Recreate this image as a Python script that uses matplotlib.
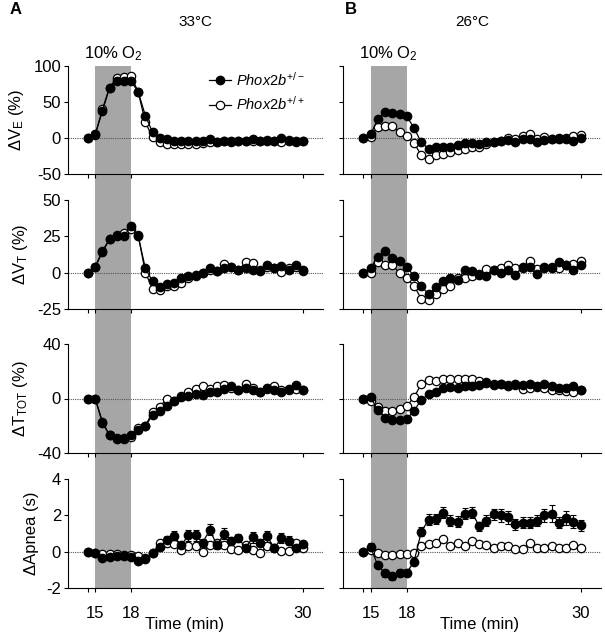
import matplotlib
matplotlib.use("Agg")
import matplotlib.pyplot as plt
import numpy as np

plt.rcParams["font.family"] = ["Liberation Sans", "DejaVu Sans"]
plt.rcParams["mathtext.fontset"] = "custom"
plt.rcParams["mathtext.rm"] = "Liberation Sans"
plt.rcParams["mathtext.it"] = "Liberation Sans:italic"
plt.rcParams["axes.unicode_minus"] = False

# ── data: 31 bins, 30 s each; filled = Phox2b+/-, open = Phox2b+/+ ─────────
bins = np.arange(31)
tick_pos = [1, 6, 30]
tick_labels = ["15", "18", "30"]
hypoxia = (1, 6)

ve33_het = [0, 5.5, 37, 70, 79, 79, 79, 64, 31, 8, 0, -1, -4, -4, -4, -4, -4, -1, -5, -4,
            -4, -4, -4, -1, -4, -4, -4, 0, -4, -4, -4]
ve33_wt = [0, 4, 40, 70, 83, 85, 86, 64, 22, 1, -6, -8, -8, -8, -8, -8, -7, -5, -5, -4,
           -5, -4, -4, -4, -4, -3, -4, -5, -3, -5, -4]
ve26_het = [0, 5, 26, 36, 35, 33, 30, 14, -6, -15, -12, -12, -12, -10, -7, -7, -8, -6, -5, -4,
            -3, -5, -1, -2, -5, -3, -1, -1, -2, -4, 0]
ve26_wt = [0, 2, 15, 17, 16, 8, 3, -7, -24, -29, -24, -22, -20, -17, -15, -12, -12, -8, -6, -4,
           0, -1, 3, 5, -1, 2, -1, 0, 0, 3, 4]

vt33_het = [0, 4, 14, 23, 25, 25, 32, 25, 3, -6, -10, -7.5, -7, -4, -2, -1.5, -0.5, 3, 1, 3,
            4, 2, 3, 2, 1, 5, 3, 4.5, 2, 5, 1.5]
vt33_wt = [0, 4, 15, 23, 26, 27, 30, 26, 0, -11, -12, -9, -9, -7, -4, -2, 0, 2, 1, 6,
           4, 2, 7, 6.5, 2, 4, 3, 0.5, 3, 4, 1]
vt26_het = [0, 3, 11, 15, 10, 8, 4, -2.5, -9, -15, -10, -5.5, -4, -5, 1.5, 1, -1.5, -2, 2, 0,
            1.5, -1.5, 4, 4, -1, 4, 3.5, 7, 5, 2, 5]
vt26_wt = [0, 0, 7, 5, 5, 0, -4, -9, -18, -19, -15, -11, -9, -4, -4, -2.5, -1, 2.5, 1.5, 3,
           5, 3.5, 3.5, 8, 2.5, 3.5, 4, 3, 5, 6, 8]

tt33_het = [0, 0, -18, -27, -29.5, -29.5, -26.5, -23, -20.5, -12, -9, -5.5, -2, 1, 1.5, 3.5,
            2.5, 4.5, 5, 7, 9, 6.5, 7.5, 6, 5, 7.5, 6, 5, 7, 10, 6]
tt33_wt = [0, 0, -17, -27, -29, -29, -28, -22, -20, -10, -6, 0, -2, 1.5, 5, 7,
           9, 7, 9, 10, 8, 6, 10.5, 7.5, 5, 7, 9, 6, 6, 7, 6]
tt26_het = [0, 1, -8.5, -14, -16, -15.5, -15, -9, -1, 3, 4.5, 7.5, 8.5, 7.5, 9.5, 9.5,
            10, 11.5, 10, 10.5, 9.5, 10.5, 10, 11, 9.5, 10.5, 9.5, 8, 7.5, 9.5, 6]
tt26_wt = [0, -2, -6, -9, -9, -8, -5.5, 1, 10.5, 13.5, 13, 14, 14, 14, 14, 14,
           13, 12, 11, 11, 10, 10, 7, 8, 8.5, 8, 6, 6, 5.5, 4.5, 6.5]

ap33_het = [0, -0.1, -0.35, -0.3, -0.25, -0.25, -0.3, -0.5, -0.4, -0.1, 0.25, 0.65, 0.85, 0.35,
            0.9, 0.9, 0.5, 1.2, 0.35, 1.0, 0.6, 0.75, 0.2, 0.8, 0.5, 0.85, 0.2, 0.75, 0.6, 0.2, 0.4]
ap33_het_sem = [0.05, 0.1, 0.1, 0.1, 0.1, 0.1, 0.1, 0.1, 0.1, 0.1, 0.15, 0.2, 0.3, 0.2,
                0.3, 0.3, 0.2, 0.3, 0.2, 0.3, 0.2, 0.2, 0.15, 0.3, 0.2, 0.3, 0.15, 0.3, 0.25, 0.15, 0.2]
ap33_wt = [0, -0.1, -0.15, -0.15, -0.15, -0.2, -0.2, -0.25, -0.35, -0.1, 0.45, 0.5, 0.4, 0.1,
           0.3, 0.3, 0.0, 0.35, 0.5, 0.35, 0.15, 0.1, 0.35, 0.1, -0.1, 0.3, 0.2, 0.05, 0.05, 0.5, 0.2]
ap26_het = [0, 0.25, -0.75, -1.2, -1.35, -1.15, -1.15, -0.55, 1.1, 1.75, 1.8, 2.15, 1.7, 1.65,
            2.1, 2.15, 1.4, 1.7, 2.05, 2.0, 1.9, 1.5, 1.6, 1.6, 1.7, 2.0, 2.1, 1.6, 1.85, 1.65, 1.45]
ap26_het_sem = [0.05, 0.2, 0.15, 0.2, 0.2, 0.2, 0.2, 0.2, 0.25, 0.3, 0.3, 0.3, 0.3, 0.3,
                0.3, 0.3, 0.25, 0.3, 0.3, 0.35, 0.35, 0.3, 0.3, 0.3, 0.3, 0.35, 0.45, 0.3, 0.4, 0.35, 0.3]
ap26_wt = [0, 0.1, -0.05, -0.2, -0.2, -0.15, -0.15, -0.1, 0.3, 0.4, 0.5, 0.7, 0.3, 0.5,
           0.3, 0.6, 0.4, 0.35, 0.2, 0.3, 0.3, 0.15, 0.15, 0.45, 0.2, 0.2, 0.3, 0.2, 0.2, 0.35, 0.2]

ylabels = [r"ΔV$_\mathrm{E}$ (%)", r"ΔV$_\mathrm{T}$ (%)", r"ΔT$_\mathrm{TOT}$ (%)", "ΔApnea (s)"]
ylims = [(-50, 100), (-25, 50), (-40, 40), (-2, 4)]
yticks = [[-50, 0, 50, 100], [-25, 0, 25, 50], [-40, 0, 40], [-2, 0, 2, 4]]

columns = [
    dict(temp="33°C", letter="A",
         het=[ve33_het, vt33_het, tt33_het, ap33_het], wt=[ve33_wt, vt33_wt, tt33_wt, ap33_wt],
         sem=ap33_het_sem),
    dict(temp="26°C", letter="B",
         het=[ve26_het, vt26_het, tt26_het, ap26_het], wt=[ve26_wt, vt26_wt, tt26_wt, ap26_wt],
         sem=ap26_het_sem),
]

# ── layout (pixels of a 605x640 canvas) ──────────────────────────────────────
W, H = 605, 640
col_x = [(68, 323), (343, 601)]
row_y = [(66, 174), (200, 309), (344, 453), (479, 588)]
xlim = (-2.8, 32.8)

fig = plt.figure(figsize=(W / 100, H / 100), dpi=100)


def rect(x0, x1, y0, y1):
    return [x0 / W, 1 - y1 / H, (x1 - x0) / W, (y1 - y0) / H]


for c, col in enumerate(columns):
    x0, x1 = col_x[c]
    # grey hypoxia band running through all four panels
    bg = fig.add_axes(rect(x0, x1, row_y[0][0], row_y[-1][1]))
    bg.set_xlim(xlim)
    bg.axvspan(*hypoxia, color="#a6a6a6", lw=0)
    bg.axis("off")

    for r in range(4):
        ax = fig.add_axes(rect(x0, x1, *row_y[r]))
        ax.set_facecolor("none")
        ax.axhline(0, color="#555555", lw=0.8, ls=(0, (1, 1)), zorder=1)
        if r == 3:
            ax.errorbar(bins, col["het"][r], yerr=col["sem"], fmt="none", ecolor="black",
                        elinewidth=0.8, capsize=2, capthick=0.8, zorder=2)
        ax.plot(bins, col["wt"][r], "-o", color="black", lw=0.9, ms=6,
                mfc="white", mec="black", mew=0.9, zorder=3, label=r"$\mathit{Phox2b}^{+/+}$")
        ax.plot(bins, col["het"][r], "-o", color="black", lw=0.9, ms=6,
                mfc="black", mec="black", zorder=4, label=r"$\mathit{Phox2b}^{+/-}$")
        ax.set_xlim(xlim)
        ax.set_ylim(ylims[r])
        ax.set_yticks(yticks[r])
        for s in ["top", "right"]:
            ax.spines[s].set_visible(False)
        ax.tick_params(direction="out", length=3, width=0.8, labelsize=12, pad=2)
        ax.set_xticks(tick_pos)
        ax.set_xticks([0], minor=True)
        ax.tick_params(which="minor", direction="out", length=3, width=0.8)
        if r == 3:
            ax.set_xticklabels(tick_labels)
            ax.tick_params(axis="x", pad=10)
            ax.set_xlabel("Time (min)", fontsize=12)
            ax.xaxis.set_label_coords((185 - x0) / (x1 - x0) if c == 0 else (480 - x0) / (x1 - x0),
                                      -(625 - 588) / (588 - 479), transform=ax.transAxes)
            ax.xaxis.label.set_va("center")
        else:
            ax.set_xticklabels([])
        if c == 0:
            ax.set_ylabel(ylabels[r], fontsize=12, labelpad=5)
        else:
            ax.set_yticklabels([])
        if r == 0:
            mid = (hypoxia[0] + hypoxia[1]) / 2
            ax.text(mid, 1.03, r"10% O$_2$", transform=ax.get_xaxis_transform(),
                    ha="center", va="bottom", fontsize=12)
            if c == 0:
                h, l = ax.get_legend_handles_labels()
                ax.legend(h[::-1], l[::-1], loc="upper left", bbox_to_anchor=(0.50, 1.08),
                          frameon=False, fontsize=10.5, handlelength=1.5,
                          handletextpad=0.4, labelspacing=0.45)

    fig.text((x0 + x1) / 2 / W, 1 - 22 / H, col["temp"], ha="center", va="center", fontsize=11)
    fig.text((x0 - 58 if c == 0 else x0 + 2) / W, 1 - 10 / H, col["letter"],
             ha="left", va="center", fontsize=12, fontweight="bold")

fig.savefig("out.png", dpi=100)
